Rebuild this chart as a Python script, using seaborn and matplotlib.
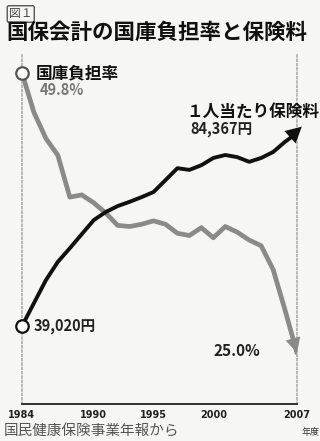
import matplotlib
matplotlib.use("Agg")
import matplotlib.pyplot as plt
import seaborn as sns
import pandas as pd

years = list(range(1984, 2008))
burden_rate = [49.8, 46.3, 44.0, 42.5, 38.8, 39.0, 38.3, 37.4, 36.3, 36.2,
               36.4, 36.7, 36.4, 35.6, 35.4, 36.1, 35.2, 36.2, 35.7, 35.0,
               34.5, 32.4, 28.8, 25.0]
premium = [39020, 44400, 49800, 54100, 57300, 60600, 63900, 65800, 67200, 68200,
           69300, 70500, 73300, 76100, 75700, 76800, 78500, 79200, 78700, 77600,
           78500, 79900, 82300, 84367]
tick_years = [1984, 1990, 1995, 2000, 2007]

sns.set_theme(style="white")
plt.rcParams["font.family"] = ["Noto Sans CJK JP", "DejaVu Sans"]

W, H = 320, 441
bg = "#f6f6f4"
fig = plt.figure(figsize=(W / 100, H / 100), dpi=100, facecolor=bg)


def px(x, y):
    return x / W, 1 - y / H


ax = fig.add_axes([22 / W, 1 - 404 / H, 275 / W, 349 / H])
ax.set_facecolor(bg)
ax2 = ax.twinx()

df = pd.DataFrame({"year": years, "rate": burden_rate, "premium": premium})

gray = "#8a8a8a"
black = "#111111"
sns.lineplot(data=df, x="year", y="rate", ax=ax, color=gray, lw=3.4,
             solid_joinstyle="round", solid_capstyle="round")
sns.lineplot(data=df, x="year", y="premium", ax=ax2, color=black, lw=2.8,
             solid_joinstyle="round", solid_capstyle="round")

ax.set_xlim(1984, 2007)
ax.set_ylim(20.48, 51.39)
ax2.set_ylim(20693, 102695)

# arrow heads
ax.annotate("", xy=(years[-1], burden_rate[-1]), xytext=(years[-2], burden_rate[-2]),
            arrowprops=dict(arrowstyle="-|>,head_length=0.9,head_width=0.45",
                            color=gray, lw=0, shrinkA=0, shrinkB=0),
            annotation_clip=False, zorder=5)
ax2.annotate("", xy=(years[-1] + 0.4, premium[-1] + 1500), xytext=(years[-2], premium[-2]),
             arrowprops=dict(arrowstyle="-|>,head_length=0.95,head_width=0.5",
                             color=black, lw=0, shrinkA=0, shrinkB=0),
             annotation_clip=False, zorder=5)

# start markers
ax.plot([years[0]], [burden_rate[0]], "o", ms=9, mfc="white", mec="#555555", mew=1.6,
        clip_on=False, zorder=6)
ax2.plot([years[0]], [premium[0]], "o", ms=9, mfc="white", mec=black, mew=1.6,
         clip_on=False, zorder=6)

# axes styling
for a in (ax, ax2):
    a.spines["top"].set_visible(False)
    a.set_xlabel("")
    a.set_ylabel("")
    a.set_yticks([])
ax2.spines["bottom"].set_visible(False)
ax2.spines["left"].set_visible(False)
ax2.spines["right"].set_visible(False)
ax.spines["left"].set_linestyle((0, (1, 1.5)))
ax.spines["left"].set_color("#b0b0b0")
ax.spines["right"].set_linestyle((0, (1, 1.5)))
ax.spines["right"].set_color("#b0b0b0")
ax.spines["bottom"].set_color("#222222")
ax.spines["bottom"].set_linewidth(1.3)

ax.set_xticks(tick_years)
ax.set_xticklabels([str(y) for y in tick_years], fontsize=7, fontweight="bold",
                   family=["DejaVu Sans Condensed", "DejaVu Sans"])
ax.tick_params(axis="x", direction="in", length=6, width=1, color="#666666",
               pad=4, labelcolor="#222222")

# texts
fig.text(*px(9, 14), "図１", fontsize=8.5, color="#444444", va="center", ha="left",
         bbox=dict(boxstyle="round,pad=0.15", fc="none", ec="#555555", lw=1))
fig.text(*px(6, 32), "国保会計の国庫負担率と保険料", fontsize=15.5, fontweight="bold",
         color="#111111", va="center", ha="left")

fig.text(*px(36, 73), "国庫負担率", fontsize=12, fontweight="bold", color="#111111",
         va="center", ha="left")
fig.text(*px(40, 90), "49.8%", fontsize=10.5, fontweight="bold", color="#777777",
         va="center", ha="left")
fig.text(*px(319, 112), "１人当たり保険料", fontsize=12, fontweight="bold",
         color="#111111", va="center", ha="right")
fig.text(*px(190, 129), "84,367円", fontsize=10.5, fontweight="bold", color="#222222",
         va="center", ha="left")
fig.text(*px(34, 326), "39,020円", fontsize=10.5, fontweight="bold", color="#222222",
         va="center", ha="left")
fig.text(*px(214, 351), "25.0%", fontsize=11, fontweight="bold", color="#222222",
         va="center", ha="left")
fig.text(*px(4, 432), "国民健康保険事業年報から", fontsize=10.5, color="#555555",
         va="center", ha="left")
fig.text(*px(320, 432), "年度", fontsize=6.5, color="#333333", va="center", ha="right")

fig.savefig("out.png", dpi=100, facecolor=bg)
